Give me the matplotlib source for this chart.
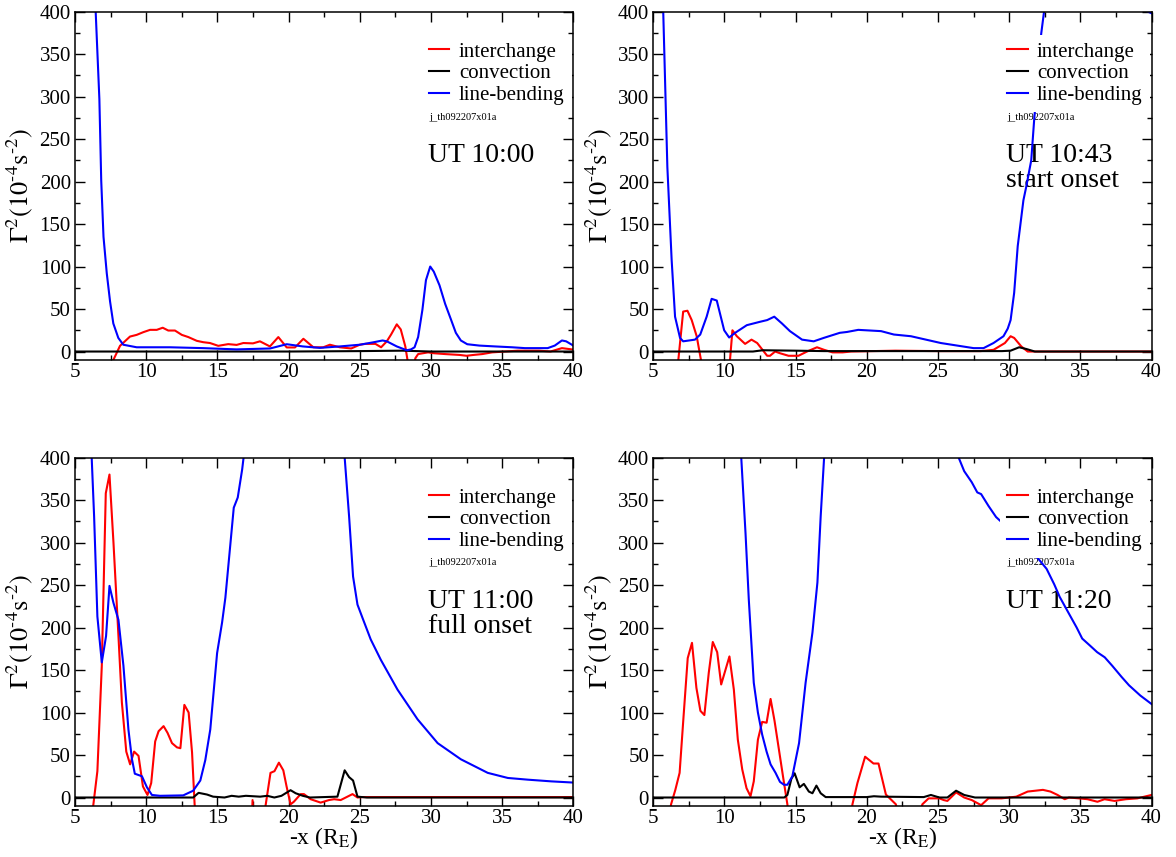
#!/usr/bin/env python3
# -*- coding: utf-8 -*-

"""
Growth rates of the interchange, convection and line-bending terms along the
tail (-x) for four times of the 2007-09-22 substorm, drawn as a 2x2 grid.
"""

import matplotlib
matplotlib.use('Agg')
import matplotlib.pyplot as plt
from matplotlib.ticker import MultipleLocator

plt.rcParams['font.family'] = ['Liberation Serif', 'DejaVu Serif']
plt.rcParams['mathtext.fontset'] = 'stix'

# ---- UT 10:00 ----
int_x_1000 = [6.0, 7.0, 7.69, 8.16, 8.86, 9.33, 9.8, 10.27, 10.74, 11.16, 11.55, 12.02, 12.5, 12.96,
              13.55, 14.0, 14.48, 15.06, 15.76, 16.35, 16.82, 17.5, 17.99, 18.69, 19.28, 19.87,
              20.45, 21.04, 21.74, 22.44, 22.9, 23.6, 24.4, 25.0, 25.4, 26.1, 26.5, 26.9, 27.2,
              27.6, 27.88, 28.2, 28.45, 28.75, 28.9, 29.1, 29.8, 30.2, 31.0, 32.0, 32.5, 33.0,
              33.6, 34.3, 35.2, 36.1, 37.6, 38.4, 39.2, 39.9, 40.0]
int_y_1000 = [-120, -50, -10, 6.7, 17.6, 19.6, 22.8, 25.5, 25.5, 28, 24.7, 24.7, 19.6, 17,
              12.6, 11, 10, 6.7, 8.7, 7.8, 10, 9.6, 12, 6, 17, 4.8,
              4.8, 15, 5, 5, 8, 5, 3.6, 8, 9, 9, 5, 12, 20,
              32, 26, 6, -20, -60, -8, -3, -1, -2, -3, -4, -5, -4,
              -3, -1, 0, 1, 1, 0, 4, 2.5, 2.5]
con_x_1000 = [5.0, 10.0, 15.0, 20.0, 25.0, 28.0, 29.0, 30.0, 35.0, 40.0]
con_y_1000 = [0, 0, 0, 0, 0.5, 1, 0.5, 0, 0, 0]
lb_x_1000 = [6.0, 6.25, 6.45, 6.71, 6.84, 7.0, 7.23, 7.46, 7.69, 8.04, 8.39, 9.33, 11.67, 14.0,
             16.35, 18.7, 19.87, 21.0, 22.2, 23.6, 25.0, 26.0, 26.6, 26.9, 27.6, 28.3, 28.6,
             28.85, 29.1, 29.4, 29.65, 29.95, 30.2, 30.6, 31.0, 31.4, 31.75, 32.1, 32.55, 33.4,
             34.5, 35.7, 36.6, 38.2, 38.7, 39.2, 39.5, 40.0]
lb_y_1000 = [800, 560, 400, 297, 201, 135, 92, 59, 33, 16, 8, 5, 5, 4,
             2.5, 3.6, 8.6, 6, 4.3, 6, 8, 11, 13, 12, 6, 1.5, 2.5,
             5, 17, 49, 84, 100, 94, 78, 56, 38, 22, 13, 8.6, 7,
             6, 5, 4, 4, 7, 13, 12, 7]

# ---- UT 10:43 ----
int_x_1043 = [6.0, 6.5, 6.76, 7.1, 7.4, 7.7, 8.05, 8.33, 8.7, 9.5, 10.2, 10.4, 10.56, 10.87,
              11.45, 11.9, 12.3, 13.0, 13.2, 13.56, 13.9, 14.5, 15.2, 15.8, 16.5, 17.0, 17.6,
              18.3, 18.9, 22.0, 25.0, 28.0, 28.9, 29.7, 30.1, 30.35, 30.85, 31.3, 35.0, 40.0]
int_y_1043 = [-100, -40, -10, 47, 48, 37, 18, -8, -40, -100, -40, -8, 25, 18,
              9, 14, 10, -5, -5, 0, -2, -5, -5, 0, 5, 2, -1,
              -1, 0, 1, 0.5, 0.5, 2, 10, 18, 16, 6, 0, 0, 0]
con_x_1043 = [5.0, 12.0, 12.7, 15.0, 17.0, 25.0, 29.5, 30.1, 30.7, 31.2, 31.8, 40.0]
con_y_1043 = [0, 0, 1.5, 1, 0.5, 0.5, 0.5, 1, 5, 3, 0, 0]
lb_x_1043 = [5.5, 5.7, 5.99, 6.29, 6.53, 6.88, 7.1, 7.93, 8.3, 8.75, 9.1, 9.46, 9.98, 10.33,
             10.75, 11.57, 12.5, 13.0, 13.5, 14.04, 14.6, 15.45, 16.27, 16.97, 18.1, 18.6,
             19.4, 21.0, 21.9, 23.1, 25.2, 27.5, 28.2, 28.9, 29.6, 29.9, 30.1, 30.35, 30.6,
             31.0, 31.2, 31.55, 31.77, 32.0, 32.25, 32.45, 33.5, 35.0, 37.0, 39.0, 39.6, 40.0]
lb_y_1043 = [700, 400, 217, 108, 41, 16, 12, 14, 20, 41, 62, 60, 25, 16.5,
             22, 31, 35, 37, 41, 33, 24, 14, 12, 16, 22, 23,
             25.5, 24, 20, 18, 10, 4, 4, 10, 18, 27, 37, 69, 124,
             178, 194, 225, 276, 316, 374, 400, 600, 800, 700, 480, 401, 398]

# ---- UT 11:00 ----
int_x_1100 = [5.5, 6.29, 6.57, 6.88, 7.16, 7.42, 7.7, 8.05, 8.29, 8.6, 8.87, 9.15, 9.46, 9.77,
              10.09, 10.35, 10.63, 10.87, 11.22, 11.5, 11.81, 12.16, 12.4, 12.68, 12.98, 13.22,
              13.4, 14.0, 17.0, 17.4, 17.47, 17.55, 18.0, 18.38, 18.73, 19.01, 19.32, 19.63,
              19.86, 20.14, 20.37, 20.85, 21.08, 21.55, 22.25, 22.84, 23.2, 23.66, 24.49, 24.84,
              25.2, 30.0, 35.0, 40.0]
int_y_1100 = [-100, -8, 31, 155, 358, 380, 300, 190, 112, 54, 39, 54, 49, 13,
              3, 17, 66, 78, 84, 76, 64, 59, 58, 109, 100, 53,
              -8, -100, -100, -40, -3, -40, -100, -10, 29, 31, 41, 32,
              13, -8, -5, 4, 4, -2, -6, -3, -2, -3, 4, 0,
              0.5, 0.5, 0.5, 0.5]
con_x_1100 = [5.0, 13.3, 13.68, 14.27, 14.7, 15.5, 16.0, 16.5, 17.0, 18.0, 18.5, 19.0, 19.5,
              20.14, 20.5, 21.0, 21.5, 23.43, 23.94, 24.25, 24.53, 24.84, 25.5, 40.0]
con_y_1100 = [0, 0, 5.5, 3.5, 1, 0, 2, 1, 2, 1, 2, 0, 2,
              8.6, 5, 2, 0, 1, 32, 24, 20, 1, 0, 0]
lb_x_1100 = [6.0, 6.17, 6.34, 6.57, 6.88, 7.18, 7.42, 7.7, 8.05, 8.4, 8.75, 9.0, 9.2, 9.7,
             10.05, 10.4, 10.97, 12.6, 13.3, 13.8, 14.15, 14.5, 14.98, 15.33, 15.56, 16.15,
             16.43, 16.74, 16.84, 18.5, 20.5, 22.5, 23.94, 24.25, 24.53, 24.84, 25.2, 25.77,
             26.48, 27.65, 29.06, 30.47, 32.1, 33.99, 35.4, 36.8, 38.45, 39.98]
lb_y_1100 = [520, 400, 331, 213, 159, 190, 249, 229, 209, 155, 80, 45, 28, 25,
             12, 3, 2, 2.5, 8, 20, 44, 80, 170, 206, 235, 341,
             353, 386, 400, 700, 900, 700, 400, 331, 260, 227, 211, 186,
             162, 127, 92, 64, 45, 29, 23, 21, 19, 17.6]

# ---- UT 11:20 ----
int_x_1120 = [5.5, 6.25, 6.55, 6.85, 7.13, 7.42, 7.72, 8.03, 8.31, 8.59, 8.9, 9.18, 9.49, 9.77,
              10.35, 10.66, 10.94, 11.25, 11.55, 11.83, 12.06, 12.35, 12.65, 12.96, 13.24,
              13.52, 13.83, 14.13, 14.42, 15.0, 18.5, 18.99, 19.34, 19.88, 20.47, 20.82, 21.34,
              22.04, 22.5, 23.5, 23.9, 24.34, 25.1, 25.4, 25.66, 26.27, 26.84, 27.37, 28.03,
              28.55, 29.47, 30.5, 31.3, 31.84, 32.37, 32.9, 33.4, 33.9, 34.2, 34.9, 35.5, 36.2,
              36.7, 37.4, 38.2, 39.0, 40.0]
int_y_1120 = [-100, -8, 9, 29, 96, 164, 182, 129, 102, 97, 147, 183, 171, 133,
              166, 127, 68, 33, 11, 1.5, 19, 68, 89, 88, 116,
              90, 56, 23, -8, -100, -100, -8, 17, 48, 40, 40, 3.5,
              -8, -40, -40, -8, -1, -1, -3, -4, 6, 0, -3, -9,
              -1, -1, 1, 7, 8, 9, 7, 3, -2, 0, -1, -2, -5,
              -2, -4, -2, -1, 3]
con_x_1120 = [5.0, 14.2, 14.42, 14.7, 14.93, 15.28, 15.58, 15.93, 16.18, 16.46, 16.76, 17.11,
              20.0, 20.5, 21.0, 24.0, 24.5, 25.1, 25.66, 26.27, 26.84, 27.6, 40.0]
con_y_1120 = [0, 0, 3, 22, 28.5, 12, 16, 7, 5, 14, 5, 0.5,
              0.5, 1.5, 1, 0.5, 3, 0, 0, 8, 3, 0, 0]
lb_x_1120 = [10.8, 11.18, 11.48, 11.71, 12.06, 12.35, 12.65, 12.96, 13.24, 13.59, 13.9, 14.18,
             14.42, 14.77, 15.24, 15.7, 16.18, 16.53, 16.76, 17.0, 19.0, 22.0, 25.0, 26.45,
             26.84, 27.37, 27.76, 28.03, 28.55, 29.08, 29.47, 30.5, 31.84, 32.24, 32.63, 33.16,
             33.55, 34.21, 34.74, 35.13, 35.66, 36.18, 36.71, 37.24, 37.89, 38.42, 39.21, 40.0]
lb_y_1120 = [560, 400, 311, 233, 135, 100, 74, 54, 39, 29, 18.4, 15,
             15, 25, 64, 135, 194, 253, 331, 400, 900, 1100, 700, 400,
             384, 371, 359, 357, 343, 330, 324, 305, 285, 277, 269, 251,
             236, 216, 200, 187, 179, 171, 165, 155, 142, 132, 120, 110]

panel_titles = [['UT 10:00'], ['UT 10:43', 'start onset'],
                ['UT 11:00', 'full onset'], ['UT 11:20']]
run_name = 'j_th092207x01a'
x_ticks = [5, 10, 15, 20, 25, 30, 35, 40]
y_ticks = [0, 50, 100, 150, 200, 250, 300, 350, 400]


def style_axes(ax, show_xlabel):
    """xmgrace-like frame: inward ticks on all four sides."""
    ax.set_xlim(5, 40)
    ax.set_ylim(-10, 400)
    ax.set_xticks(x_ticks)
    ax.set_yticks(y_ticks)
    ax.xaxis.set_minor_locator(MultipleLocator(2.5))
    ax.yaxis.set_minor_locator(MultipleLocator(25))
    ax.tick_params(which='both', direction='in', top=True, right=True, width=1.0,
                   labelsize=15)
    ax.tick_params(which='major', length=7)
    ax.tick_params(which='minor', length=3.5)
    ax.tick_params(axis='x', pad=2)
    ax.tick_params(axis='y', pad=3)
    for spine in ax.spines.values():
        spine.set_linewidth(1.1)
    ax.set_ylabel(r'$\Gamma^{2}(10^{\text{-}4}\mathrm{s}^{\text{-}2})$', fontsize=19, labelpad=3)
    if show_xlabel:
        ax.set_xlabel(r'-x (R$_\mathrm{E}$)', fontsize=17, labelpad=-2)


def draw_panel(ax, series, title_lines, show_xlabel):
    (ix, iy), (cx, cy), (lx, ly) = series
    h1, = ax.plot(ix, iy, color='#ff0000', lw=1.5, label='interchange')
    h2, = ax.plot(cx, cy, color='black', lw=1.5, label='convection')
    h3, = ax.plot(lx, ly, color='#0000ff', lw=1.5, label='line-bending')

    leg = ax.legend(handles=[h1, h2, h3], loc='upper left', bbox_to_anchor=(0.695, 0.933),
                    borderaxespad=0, fontsize=15, handlelength=1.0, handletextpad=0.45,
                    labelspacing=0.1, borderpad=0.35, frameon=True, fancybox=False,
                    facecolor='white', edgecolor='none', framealpha=1)
    leg.set_zorder(5)

    # annotations sit under the curves, as in the original
    ax.text(29.9, 273, run_name, fontsize=7.5, zorder=1)
    for i, line in enumerate(title_lines):
        ax.text(29.8, 223 - 29 * i, line, fontsize=20, zorder=1)

    style_axes(ax, show_xlabel)


def main():
    fig = plt.figure(figsize=(11.76, 8.57), dpi=100)
    lefts = [0.0638, 0.5555]
    bottoms = [0.5799, 0.0595]
    width, height = 0.4237, 0.4066

    all_series = [
        [(int_x_1000, int_y_1000), (con_x_1000, con_y_1000), (lb_x_1000, lb_y_1000)],
        [(int_x_1043, int_y_1043), (con_x_1043, con_y_1043), (lb_x_1043, lb_y_1043)],
        [(int_x_1100, int_y_1100), (con_x_1100, con_y_1100), (lb_x_1100, lb_y_1100)],
        [(int_x_1120, int_y_1120), (con_x_1120, con_y_1120), (lb_x_1120, lb_y_1120)],
    ]

    for k, series in enumerate(all_series):
        row, col = divmod(k, 2)
        ax = fig.add_axes([lefts[col], bottoms[row], width, height])
        draw_panel(ax, series, panel_titles[k], show_xlabel=(row == 1))

    fig.savefig('out.png', dpi=100)


if __name__ == '__main__':
    main()
